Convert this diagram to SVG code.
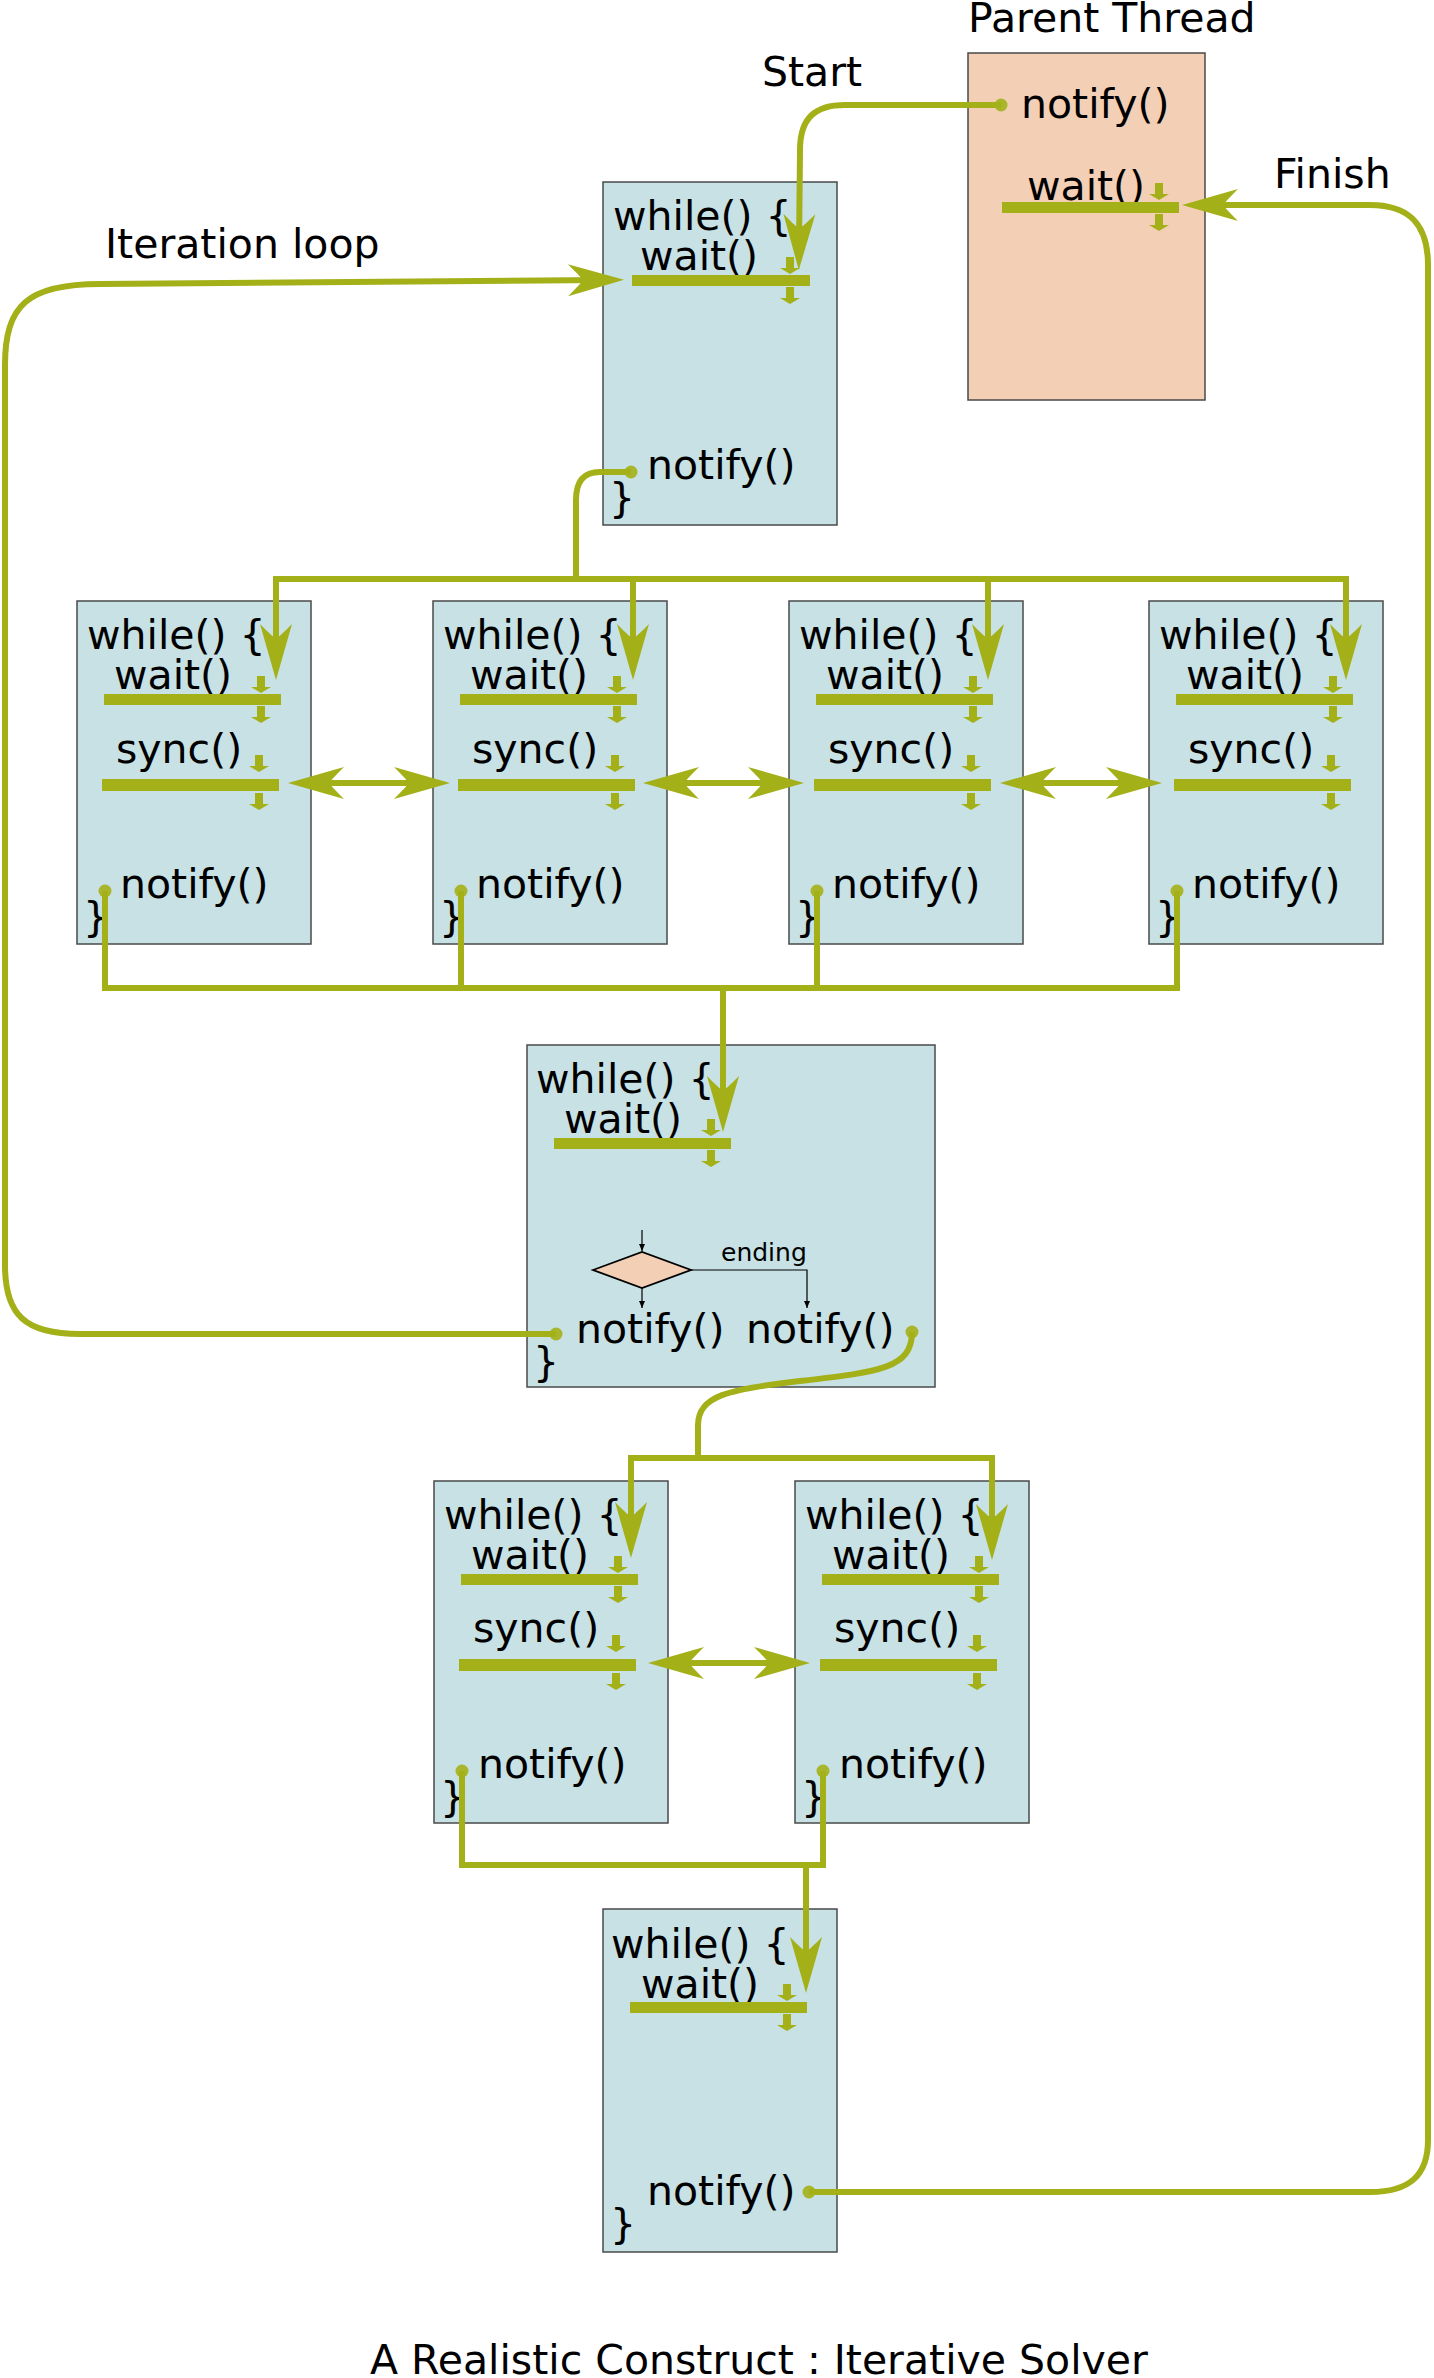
<svg xmlns="http://www.w3.org/2000/svg" xmlns:xlink="http://www.w3.org/1999/xlink" width="1434" height="2378" viewBox="0 0 1434 2378">
<style>
.box{fill:#c7e1e4;stroke:#4a4a4a;stroke-width:1.5}
.pbox{fill:#f3cfb6;stroke:#4a4a4a;stroke-width:1.5}
.t{font-family:"DejaVu Sans",sans-serif;font-size:41px;fill:#000}
.s{font-family:"DejaVu Sans",sans-serif;font-size:25px;fill:#000}
.bar{fill:#a3b018}
.dot{fill:#a9b62b}
.c{fill:none;stroke:#a3b018;stroke-width:6}
.sq{stroke-linecap:square}
.ae{marker-end:url(#ah)}
.ab{marker-start:url(#ah);marker-end:url(#ah)}
.thin{fill:none;stroke:#000;stroke-width:1.2;marker-end:url(#sm)}
.dia{fill:#f3cfb6;stroke:#000;stroke-width:1.8}
</style>
<defs>
<marker id="ah" markerUnits="userSpaceOnUse" markerWidth="80" markerHeight="40" viewBox="-60 -20 80 40" refX="-20" refY="0" orient="auto-start-reverse" overflow="visible">
<path d="M0,0 L-56,-16 C-46,-6 -42,-2 -42,0 C-42,2 -46,6 -56,16 Z" fill="#a3b018"/>
</marker>
<marker id="sm" markerUnits="userSpaceOnUse" markerWidth="10" markerHeight="8" viewBox="-8 -4 10 8" refX="0" refY="0" orient="auto" overflow="visible">
<path d="M0,0 L-7,-3 L-7,3 Z" fill="#000"/>
</marker>
<g id="sa" fill="#a3b018"><rect x="-4" y="0" width="8" height="12"/><path d="M-10,11 H10 L0,17 Z"/></g>
</defs>
<rect width="1434" height="2378" fill="#fff"/>

<g id="labels">
<text class="t" x="968" y="32">Parent Thread</text>
<text class="t" x="762" y="86">Start</text>
<text class="t" x="1274" y="188">Finish</text>
<text class="t" x="105" y="258">Iteration loop</text>
<text class="t" x="370" y="2374">A Realistic Construct : Iterative Solver</text>
</g>

<g id="parent">
<rect class="pbox" x="968" y="53" width="237" height="347"/>
<text class="t" x="1021" y="118">notify()</text>
<circle class="dot" cx="1001" cy="105" r="6.5"/>
<text class="t" x="1027" y="200">wait()</text>
<rect class="bar" x="1002" y="202" width="177" height="11"/>
<use xlink:href="#sa" x="1159" y="183"/>
<use xlink:href="#sa" x="1159" y="214"/>
</g>

<g id="t1">
<rect class="box" x="603" y="182" width="234" height="343"/>
<text class="t" x="613" y="230">while() {</text>
<text class="t" x="640" y="270">wait()</text>
<rect class="bar" x="632" y="275" width="178" height="11"/>
<use xlink:href="#sa" x="790" y="257"/>
<use xlink:href="#sa" x="790" y="287"/>
<text class="t" x="647" y="479">notify()</text>
<circle class="dot" cx="631" cy="472" r="6.5"/>
<text class="t" x="609" y="512">}</text>
</g>

<g id="w1">
<rect class="box" x="77" y="601" width="234" height="343"/>
<text class="t" x="87" y="649">while() {</text>
<text class="t" x="114" y="689">wait()</text>
<rect class="bar" x="104" y="694" width="177" height="11"/>
<use xlink:href="#sa" x="261" y="676"/>
<use xlink:href="#sa" x="261" y="706"/>
<text class="t" x="116" y="763">sync()</text>
<rect class="bar" x="102" y="779" width="177" height="12"/>
<use xlink:href="#sa" x="259" y="755"/>
<use xlink:href="#sa" x="259" y="793"/>
<text class="t" x="120" y="898">notify()</text>
<circle class="dot" cx="105" cy="891" r="6.5"/>
<text class="t" x="83" y="931">}</text>
</g>

<g id="w2">
<rect class="box" x="433" y="601" width="234" height="343"/>
<text class="t" x="443" y="649">while() {</text>
<text class="t" x="470" y="689">wait()</text>
<rect class="bar" x="460" y="694" width="177" height="11"/>
<use xlink:href="#sa" x="617" y="676"/>
<use xlink:href="#sa" x="617" y="706"/>
<text class="t" x="472" y="763">sync()</text>
<rect class="bar" x="458" y="779" width="177" height="12"/>
<use xlink:href="#sa" x="615" y="755"/>
<use xlink:href="#sa" x="615" y="793"/>
<text class="t" x="476" y="898">notify()</text>
<circle class="dot" cx="461" cy="891" r="6.5"/>
<text class="t" x="439" y="931">}</text>
</g>

<g id="w3">
<rect class="box" x="789" y="601" width="234" height="343"/>
<text class="t" x="799" y="649">while() {</text>
<text class="t" x="826" y="689">wait()</text>
<rect class="bar" x="816" y="694" width="177" height="11"/>
<use xlink:href="#sa" x="973" y="676"/>
<use xlink:href="#sa" x="973" y="706"/>
<text class="t" x="828" y="763">sync()</text>
<rect class="bar" x="814" y="779" width="177" height="12"/>
<use xlink:href="#sa" x="971" y="755"/>
<use xlink:href="#sa" x="971" y="793"/>
<text class="t" x="832" y="898">notify()</text>
<circle class="dot" cx="817" cy="891" r="6.5"/>
<text class="t" x="795" y="931">}</text>
</g>

<g id="w4">
<rect class="box" x="1149" y="601" width="234" height="343"/>
<text class="t" x="1159" y="649">while() {</text>
<text class="t" x="1186" y="689">wait()</text>
<rect class="bar" x="1176" y="694" width="177" height="11"/>
<use xlink:href="#sa" x="1333" y="676"/>
<use xlink:href="#sa" x="1333" y="706"/>
<text class="t" x="1188" y="763">sync()</text>
<rect class="bar" x="1174" y="779" width="177" height="12"/>
<use xlink:href="#sa" x="1331" y="755"/>
<use xlink:href="#sa" x="1331" y="793"/>
<text class="t" x="1192" y="898">notify()</text>
<circle class="dot" cx="1177" cy="891" r="6.5"/>
<text class="t" x="1155" y="931">}</text>
</g>

<g id="mid">
<rect class="box" x="527" y="1045" width="408" height="342"/>
<text class="t" x="536" y="1093">while() {</text>
<text class="t" x="564" y="1133">wait()</text>
<rect class="bar" x="554" y="1138" width="177" height="11"/>
<use xlink:href="#sa" x="711" y="1119"/>
<use xlink:href="#sa" x="711" y="1150"/>
<polygon class="dia" points="593,1270 642,1252 691,1270 642,1288"/>
<path class="thin" d="M642,1230 V1251"/>
<path class="thin" d="M642,1288 V1308"/>
<path class="thin" d="M691,1270 H807 V1308"/>
<text class="s" x="721" y="1261">ending</text>
<text class="t" x="576" y="1343">notify()</text>
<text class="t" x="746" y="1343">notify()</text>
<circle class="dot" cx="556" cy="1334" r="6.5"/>
<circle class="dot" cx="912" cy="1332" r="6.5"/>
<text class="t" x="533" y="1376">}</text>
</g>

<g id="w5">
<rect class="box" x="434" y="1481" width="234" height="342"/>
<text class="t" x="444" y="1529">while() {</text>
<text class="t" x="471" y="1569">wait()</text>
<rect class="bar" x="461" y="1574" width="177" height="11"/>
<use xlink:href="#sa" x="618" y="1556"/>
<use xlink:href="#sa" x="618" y="1586"/>
<text class="t" x="473" y="1642">sync()</text>
<rect class="bar" x="459" y="1659" width="177" height="12"/>
<use xlink:href="#sa" x="616" y="1635"/>
<use xlink:href="#sa" x="616" y="1673"/>
<text class="t" x="478" y="1778">notify()</text>
<circle class="dot" cx="462" cy="1771" r="6.5"/>
<text class="t" x="440" y="1811">}</text>
</g>

<g id="w6">
<rect class="box" x="795" y="1481" width="234" height="342"/>
<text class="t" x="805" y="1529">while() {</text>
<text class="t" x="832" y="1569">wait()</text>
<rect class="bar" x="822" y="1574" width="177" height="11"/>
<use xlink:href="#sa" x="979" y="1556"/>
<use xlink:href="#sa" x="979" y="1586"/>
<text class="t" x="834" y="1642">sync()</text>
<rect class="bar" x="820" y="1659" width="177" height="12"/>
<use xlink:href="#sa" x="977" y="1635"/>
<use xlink:href="#sa" x="977" y="1673"/>
<text class="t" x="839" y="1778">notify()</text>
<circle class="dot" cx="823" cy="1771" r="6.5"/>
<text class="t" x="801" y="1811">}</text>
</g>

<g id="final">
<rect class="box" x="603" y="1909" width="234" height="343"/>
<text class="t" x="611" y="1958">while() {</text>
<text class="t" x="641" y="1998">wait()</text>
<rect class="bar" x="630" y="2002" width="177" height="11"/>
<use xlink:href="#sa" x="787" y="1984"/>
<use xlink:href="#sa" x="787" y="2014"/>
<text class="t" x="647" y="2205">notify()</text>
<circle class="dot" cx="809" cy="2192" r="6.5"/>
<text class="t" x="610" y="2238">}</text>
</g>

<g id="connectors">
<path class="c ae" d="M1001,105 L845,105 C815,105 800,118 800,150 L799,250"/>
<path class="c ae" d="M556,1334 L80,1334 C25,1334 5,1315 5,1265 L5,365 C5,305 28,284 100,284 L604,280"/>
<path class="c" d="M631,472 L600,472 C583,472 576,482 576,500 L576,579"/>
<path class="c sq" d="M276,579 H1346"/>
<path class="c ae" d="M276,579 V660"/>
<path class="c ae" d="M633,579 V660"/>
<path class="c ae" d="M988,579 V660"/>
<path class="c ae" d="M1346,579 V660"/>
<path class="c ab" d="M308,783 H430"/>
<path class="c ab" d="M663,783 H784"/>
<path class="c ab" d="M1020,783 H1142"/>
<path class="c" d="M105,891 V988"/>
<path class="c" d="M461,891 V988"/>
<path class="c" d="M817,891 V988"/>
<path class="c" d="M1177,891 V988"/>
<path class="c sq" d="M105,988 H1177"/>
<path class="c ae" d="M723,988 V1112"/>
<path class="c" d="M912,1332 C912,1368 880,1372 800,1381 C728,1389 698,1396 698,1425 L698,1458"/>
<path class="c sq" d="M631,1458 H992"/>
<path class="c ae" d="M631,1458 V1538"/>
<path class="c ae" d="M992,1458 V1540"/>
<path class="c ab" d="M668,1663 H790"/>
<path class="c" d="M462,1771 V1865"/>
<path class="c" d="M823,1771 V1865"/>
<path class="c sq" d="M462,1865 H823"/>
<path class="c ae" d="M806,1865 V1973"/>
<path class="c ae" d="M809,2192 L1370,2192 C1410,2192 1428,2175 1428,2140 L1428,265 C1428,225 1410,205 1370,205 L1202,205"/>
</g>
</svg>
